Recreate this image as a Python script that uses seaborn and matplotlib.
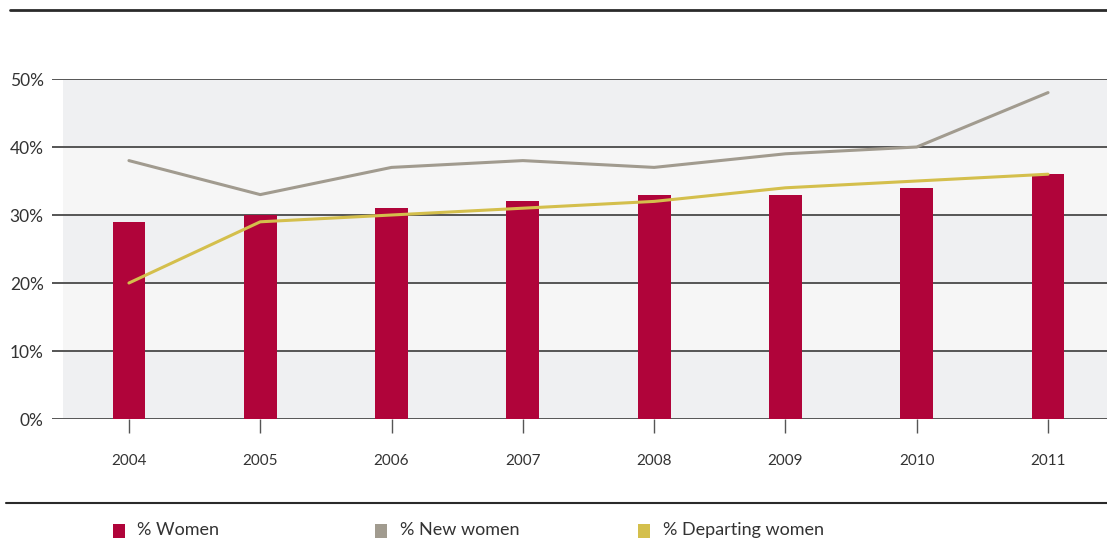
import numpy as np
import pandas as pd
import matplotlib
matplotlib.use("Agg")
import matplotlib.pyplot as plt
import seaborn as sns
from matplotlib.lines import Line2D
from matplotlib.patches import Rectangle

# ----------------------------
# Data
# ----------------------------
years = ["2004", "2005", "2006", "2007", "2008", "2009", "2010", "2011"]
pct_women = [29, 30, 31, 32, 33, 33, 34, 36]
pct_new_women = [38, 33, 37, 38, 37, 39, 40, 48]
pct_departing = [20, 29, 30, 31, 32, 34, 35, 36]
y_ticks = [0, 10, 20, 30, 40, 50]
legend_labels = ["% Women", "% New women", "% Departing women"]

RED = "#b0043a"
GREY = "#a19b8f"
YELLOW = "#d4bf4c"
BAND_DARK = "#eff0f2"
BAND_LIGHT = "#f6f6f6"
GRID = "#555555"
TEXT = "#333333"

sns.set_theme(style="white")
plt.rcParams["font.family"] = ["Lato", "DejaVu Sans"]

W, H = 1107, 541
fig = plt.figure(figsize=(W / 100, H / 100), dpi=100)

# axes: left edge where gridlines start, bottom at 0%, top at 50%
ax_left, ax_right = 52, 1107
ax_bottom, ax_top = 419, 79
ax = fig.add_axes([ax_left / W, 1 - ax_bottom / H,
                   (ax_right - ax_left) / W, (ax_bottom - ax_top) / H])

df = pd.DataFrame({"year": years, "women": pct_women,
                   "new": pct_new_women, "departing": pct_departing})

# alternating background bands (start a little right of the gridlines)
band_start = (63 - ax_left) / (ax_right - ax_left)
for i in range(len(y_ticks) - 1):
    c = BAND_DARK if i % 2 == 0 else BAND_LIGHT
    ax.axhspan(y_ticks[i], y_ticks[i + 1], xmin=band_start, xmax=1,
               color=c, zorder=0, lw=0)
for t in y_ticks:
    ax.axhline(t, color=GRID, lw=1.4, zorder=1)

sns.barplot(data=df, x="year", y="women", color=RED, width=0.25,
            saturation=1, linewidth=0, edgecolor=RED, ax=ax, zorder=2)
xs = np.arange(len(years))
sns.lineplot(x=xs, y=df["new"], color=GREY, lw=2.2, ax=ax, zorder=3)
sns.lineplot(x=xs, y=df["departing"], color=YELLOW, lw=2.2, ax=ax, zorder=3)

ax.set_xlim(-0.586, 7.449)
ax.set_ylim(0, 50)
ax.set_yticks(y_ticks)
ax.set_yticklabels([f"{t}%" for t in y_ticks], fontsize=12.5, color=TEXT)
ax.tick_params(axis="y", length=0, pad=6)
ax.tick_params(axis="x", length=10, width=1, color=GRID, direction="out",
               labelsize=11, labelcolor=TEXT, pad=15, bottom=True)
ax.set_xlabel("")
ax.set_ylabel("")
for s in ax.spines.values():
    s.set_visible(False)

# top and bottom rules
fig.add_artist(Line2D([10 / W, 1], [1 - 10 / H] * 2, color="#2a2a2a", lw=2))
fig.add_artist(Line2D([6 / W, 1], [1 - 503 / H] * 2, color="#2a2a2a", lw=1.5))

# legend (manual, along the bottom edge)
leg_colors = [RED, GREY, YELLOW]
box_x = [113, 375, 638]
text_x = [137, 400, 663]
for lab, c, bx, tx in zip(legend_labels, leg_colors, box_x, text_x):
    fig.add_artist(Rectangle((bx / W, 1 - 538 / H), 12 / W, 14 / H,
                             transform=fig.transFigure, color=c, lw=0))
    fig.text(tx / W, 1 - 530 / H, lab, fontsize=13, color=TEXT, va="center")

fig.savefig("out.png", dpi=100)
